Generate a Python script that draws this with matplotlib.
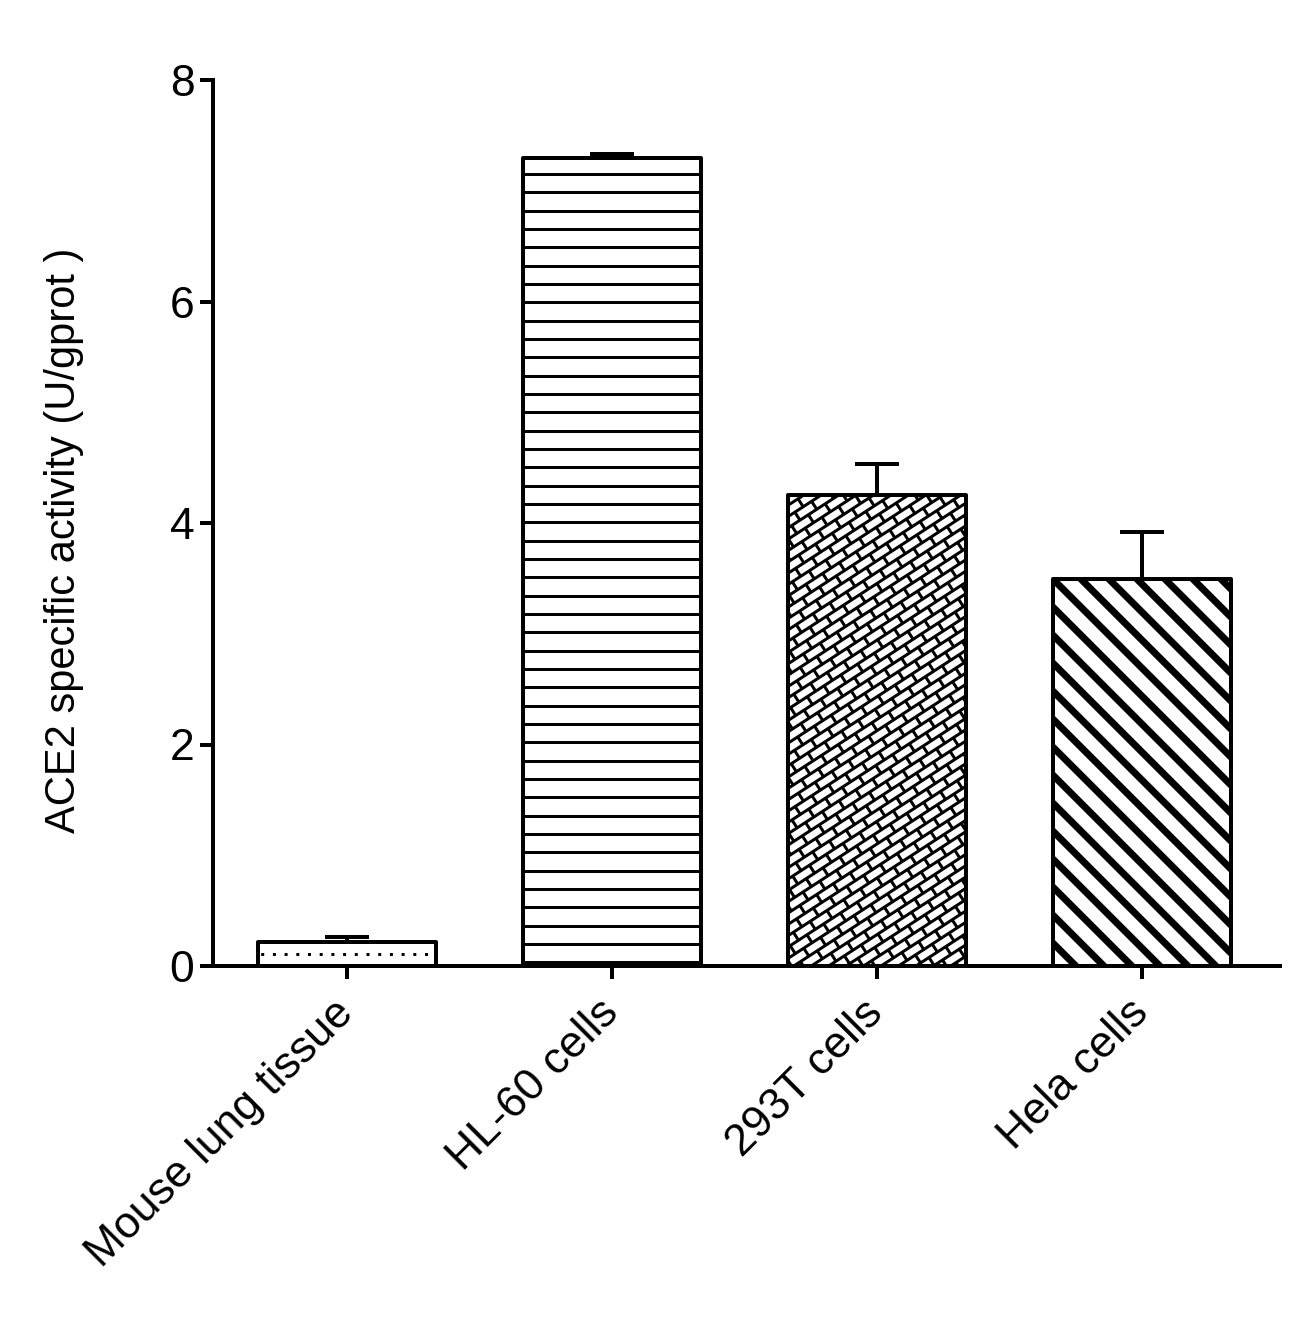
import numpy as np
import matplotlib
matplotlib.use('Agg')
import matplotlib.pyplot as plt
from matplotlib.collections import LineCollection
from matplotlib.transforms import IdentityTransform

plt.rcParams['font.family'] = ['Liberation Sans', 'DejaVu Sans']

samples = ['Mouse lung tissue', 'HL-60 cells', '293T cells', 'Hela cells']
activity = [0.22, 7.30, 4.25, 3.49]
activity_err = [0.04, 0.03, 0.28, 0.43]

W, H = 1306, 1331
fig = plt.figure(figsize=(W / 100, H / 100), dpi=100)
ax = fig.add_axes([213 / W, 1 - 966 / H, (1280 - 213) / W, (966 - 80) / H])

x = np.arange(len(samples))
ax.set_xlim(-0.505, 3.52)
ax.set_ylim(0, 8)

px = 0.72  # one pixel in points at dpi 100

ax.errorbar(x, activity, yerr=[np.zeros(len(x)), activity_err], fmt='none',
            ecolor='black', elinewidth=4 * px, capsize=22 * px,
            capthick=4 * px, zorder=1)
bars = ax.bar(x, activity, width=0.67, color='white', edgecolor='none',
              zorder=2)


def add_lines(bar, angle, spacing, lw, anchor, dashes=None):
    # parallel lines in pixel space, clipped to the bar
    bb = bar.get_window_extent()
    r = np.hypot(bb.width, bb.height) + 2 * spacing
    th = np.deg2rad(angle)
    d = np.array([np.cos(th), np.sin(th)])
    n = np.array([-np.sin(th), np.cos(th)])
    c = np.array([(bb.x0 + bb.x1) / 2, (bb.y0 + bb.y1) / 2])
    a = np.array(anchor)
    k0 = np.dot(c - a, n)
    segs = []
    for k in np.arange(np.floor((k0 - r) / spacing), np.ceil((k0 + r) / spacing) + 1):
        p = a + n * k * spacing
        p = p + d * np.dot(c - p, d)
        segs.append([p - d * r, p + d * r])
    ls = 'solid' if dashes is None else (0, dashes)
    lc = LineCollection(segs, colors='black', linewidths=lw, linestyles=ls,
                        transform=IdentityTransform(), zorder=2.5,
                        capstyle='butt')
    ax.add_collection(lc, autolim=False)
    lc.set_clip_path(bar)


def add_bricks(bar, angle, s, length, lw):
    bb = bar.get_window_extent()
    r = np.hypot(bb.width, bb.height)
    th = np.deg2rad(angle)
    d = np.array([np.cos(th), np.sin(th)])
    n = np.array([-np.sin(th), np.cos(th)])
    c = np.array([(bb.x0 + bb.x1) / 2, (bb.y0 + bb.y1) / 2])
    segs = []
    nrows = int(r / s) + 2
    ncols = int(r / length) + 2
    for k in range(-nrows, nrows):
        p = c + n * k * s
        segs.append([p - d * r, p + d * r])
        shift = (k % 2) * length / 2
        for j in range(-ncols, ncols):
            q = p + d * (j * length + shift)
            segs.append([q, q + n * s])
    lc = LineCollection(segs, colors='black', linewidths=lw,
                        transform=IdentityTransform(), zorder=2.5)
    ax.add_collection(lc, autolim=False)
    lc.set_clip_path(bar)


# Mouse lung tissue: row of dots
b = bars[0].get_window_extent()
add_lines(bars[0], 0, 18, 3 * px, (b.x0 + 9, b.y0 + 12), dashes=(1, 2.9))
# HL-60: horizontal lines
b = bars[1].get_window_extent()
add_lines(bars[1], 0, 18.33, 3 * px, (b.x0, b.y1 - 16.5))
# 293T: diagonal bricks
add_bricks(bars[2], 33, 9.5, 20, 3 * px)
# Hela: thick diagonal stripes
b = bars[3].get_window_extent()
add_lines(bars[3], -45, 19.8, 7 * px, (b.x0, b.y1))

ax.bar(x, activity, width=0.67, fill=False, edgecolor='black',
       linewidth=4 * px, joinstyle='round', zorder=3)

for side in ['top', 'right']:
    ax.spines[side].set_visible(False)
for side in ['left', 'bottom']:
    ax.spines[side].set_linewidth(4 * px)

ax.set_yticks([0, 2, 4, 6, 8])
ax.set_xticks(x)
ax.set_xticklabels(samples, rotation=45, ha='right', va='center',
                   rotation_mode='anchor')
ax.tick_params(direction='out', length=13 * px, width=4 * px,
               labelsize=32, pad=4)
ax.tick_params(axis='x', pad=20)

ax.set_ylabel('ACE2 specific activity (U/gprot )', fontsize=30)
ax.yaxis.set_label_coords((84 - 213) / 1067, 0.481)

fig.savefig('out.png', dpi=100)
